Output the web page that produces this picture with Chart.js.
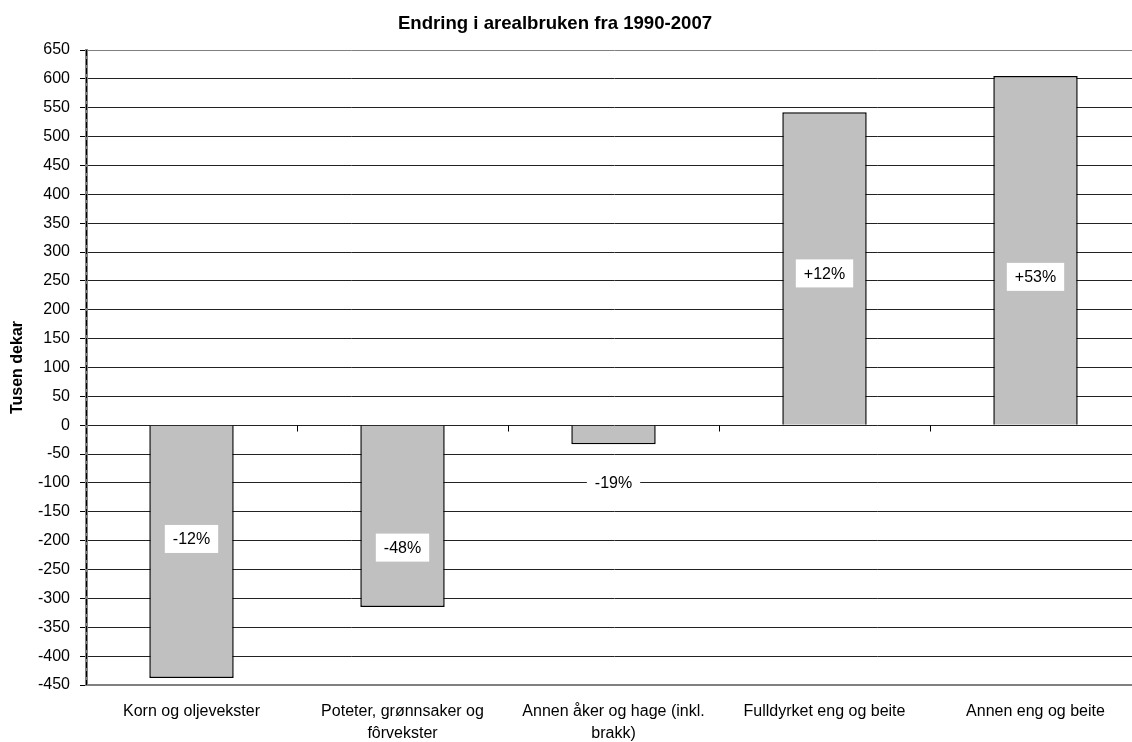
<!DOCTYPE html>
<html>
<head>
<meta charset="utf-8">
<script src="https://cdn.jsdelivr.net/npm/chart.js@4/dist/chart.umd.min.js"></script>
<style>
  html, body { margin: 0; padding: 0; background: #fff; overflow: hidden; }
  #wrap { width: 1142px; height: 742px; }
</style>
</head>
<body>
<div id="wrap"><canvas id="chart" width="1142" height="742"></canvas></div>
<script>
const categories = [
  ['Korn og oljevekster'],
  ['Poteter, grønnsaker og', 'fôrvekster'],
  ['Annen åker og hage (inkl.', 'brakk)'],
  ['Fulldyrket eng og beite'],
  ['Annen eng og beite']
];
const changes = [-438, -315, -33, 542, 605];
const pctLabels = ['-12%', '-48%', '-19%', '+12%', '+53%'];
const labelAt = [-197, -212, -100, 263, 257];

const chartTitle = 'Endring i arealbruken fra 1990-2007';
const yTitle = 'Tusen dekar';
const FONT = '"Liberation Sans", Arial, sans-serif';

// title, dashed axis overlay, ticks on the zero line, percent boxes
const extras = {
  id: 'extras',
  afterDatasetsDraw(chart) {
    const { ctx, chartArea, scales } = chart;
    const x = scales.x, y = scales.y;
    ctx.save();

    // title
    ctx.font = 'bold 18.6px ' + FONT;
    ctx.fillStyle = '#000';
    ctx.textAlign = 'center';
    ctx.textBaseline = 'middle';
    ctx.fillText(chartTitle, 555, 24);

    // dashed black line over gray y axis
    ctx.strokeStyle = '#000';
    ctx.lineWidth = 1;
    ctx.setLineDash([6, 3]);
    ctx.beginPath();
    ctx.moveTo(chartArea.left + 0.5, chartArea.top);
    ctx.lineTo(chartArea.left + 0.5, chartArea.bottom);
    ctx.stroke();
    ctx.setLineDash([]);

    // category separators at zero
    const y0 = Math.round(y.getPixelForValue(0)) + 0.5;
    for (let i = 0; i < categories.length - 1; i++) {
      const bx = Math.round((x.getPixelForValue(i) + x.getPixelForValue(i + 1)) / 2) + 0.5;
      ctx.beginPath();
      ctx.moveTo(bx, y0);
      ctx.lineTo(bx, y0 + 6);
      ctx.stroke();
    }

    // percent labels
    ctx.font = '16px ' + FONT;
    pctLabels.forEach((t, i) => {
      const px = x.getPixelForValue(i);
      const py = y.getPixelForValue(labelAt[i]);
      const w = ctx.measureText(t).width + 16;
      const h = 28;
      ctx.fillStyle = '#fff';
      ctx.fillRect(px - w / 2, py - h / 2, w, h);
      ctx.fillStyle = '#000';
      ctx.fillText(t, px, py + 1);
    });
    ctx.restore();
  }
};

new Chart(document.getElementById('chart'), {
  type: 'bar',
  data: {
    labels: categories,
    datasets: [{
      data: changes,
      backgroundColor: '#c0c0c0',
      borderColor: '#000',
      borderWidth: 1.5,
      barPercentage: 0.4,
      categoryPercentage: 1
    }]
  },
  options: {
    responsive: false,
    animation: false,
    layout: { padding: { top: 50, right: 1, left: 0, bottom: 0 } },
    plugins: {
      legend: { display: false },
      tooltip: { enabled: false }
    },
    scales: {
      x: {
        grid: { display: false },
        border: { display: true, color: '#808080', width: 2 },
        ticks: {
          color: '#000',
          font: { family: FONT, size: 16, lineHeight: 1.35 },
          padding: 8,
          maxRotation: 0,
          autoSkip: false
        },
        afterFit(scale) { scale.height = 57; }
      },
      y: {
        min: -450,
        max: 650,
        ticks: {
          stepSize: 50,
          color: '#000',
          font: { family: FONT, size: 16 },
          padding: 10
        },
        grid: {
          color: ctx => ctx.tick && ctx.tick.value === 650 ? '#808080' : '#222',
          lineWidth: 1,
          tickLength: 6,
          tickColor: '#000'
        },
        border: { display: true, color: '#808080', width: 3 },
        title: {
          display: true,
          text: yTitle,
          color: '#000',
          font: { family: FONT, size: 16, weight: 'bold' },
          padding: { top: 8, bottom: 0 }
        },
        afterFit(scale) { scale.width = 86; }
      }
    }
  },
  plugins: [extras]
});
</script>
</body>
</html>
